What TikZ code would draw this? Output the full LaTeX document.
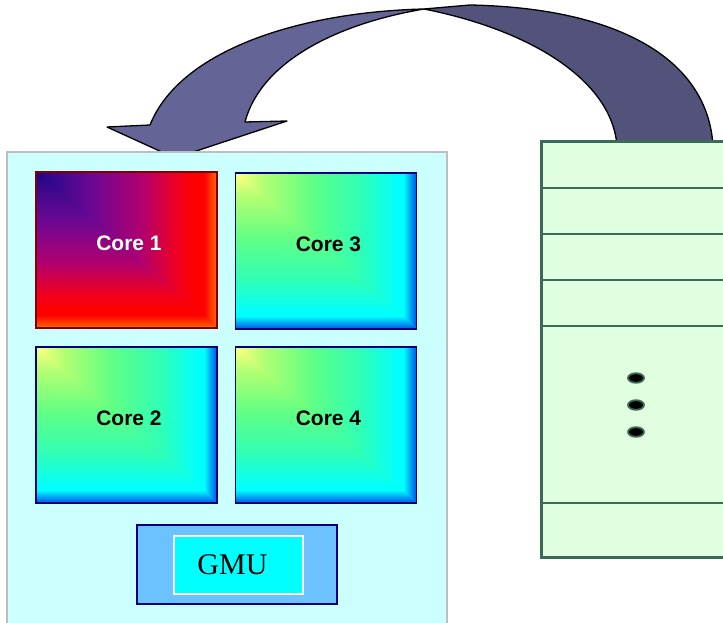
\documentclass[tikz,border=0pt]{standalone}
\usepackage{fontspec}
\setmainfont{Liberation Serif}
\setsansfont{Liberation Sans}
\usepackage{tikz}
\usetikzlibrary{shapes,arrows}

% Farben
\definecolor{chipfill}{HTML}{CCFFFF}
\definecolor{chipline}{HTML}{BEBEBE}
\definecolor{stackfill}{HTML}{E0FFE0}
\definecolor{stackline}{HTML}{3B6B58}
\definecolor{arrowlight}{HTML}{646496}
\definecolor{arrowdark}{HTML}{52527A}
\definecolor{gmuouter}{HTML}{6CC2FF}
\definecolor{gmuinner}{HTML}{00FFFF}
\definecolor{navyline}{HTML}{00007F}
\definecolor{darkredline}{HTML}{800000}
\definecolor{oneA}{HTML}{1E0888}
\definecolor{oneB}{HTML}{6A0894}
\definecolor{oneC}{HTML}{B00070}
\definecolor{oneD}{HTML}{F00020}
\definecolor{oneE}{HTML}{FF0000}
\definecolor{oneF}{HTML}{FF6A00}
\definecolor{threeA}{HTML}{FFFF80}
\definecolor{threeB}{HTML}{B0FF72}
\definecolor{threeC}{HTML}{60FF84}
\definecolor{threeD}{HTML}{30FFB4}
\definecolor{threeE}{HTML}{00FFFF}
\definecolor{threeF}{HTML}{0050E8}

% Verlaeufe der Kerne (Box entspricht 25bp bis 75bp)
\pgfdeclarehorizontalshading{onex}{100bp}{color(0bp)=(oneA); color(25bp)=(oneA); color(40bp)=(oneB); color(54bp)=(oneC); color(64bp)=(oneD); color(69bp)=(oneE); color(100bp)=(oneE)}
\pgfdeclareverticalshading{oney}{100bp}{color(0bp)=(oneE); color(31bp)=(oneE); color(36bp)=(oneD); color(46bp)=(oneC); color(60bp)=(oneB); color(75bp)=(oneA); color(100bp)=(oneA)}
\pgfdeclarehorizontalshading{threex}{100bp}{color(0bp)=(threeA); color(25bp)=(threeA); color(33bp)=(threeB); color(46bp)=(threeC); color(59bp)=(threeD); color(70bp)=(threeE); color(100bp)=(threeE)}
\pgfdeclareverticalshading{threey}{100bp}{color(0bp)=(threeE); color(30bp)=(threeE); color(41bp)=(threeD); color(54bp)=(threeC); color(67bp)=(threeB); color(75bp)=(threeA); color(100bp)=(threeA)}

\begin{document}
\begin{tikzpicture}[x=1pt, y=-1pt,
					core/.style={minimum width=181pt, minimum height=156pt, inner sep=0pt, line width=1.3pt,
						text height=0pt, text depth=0pt, font=\sffamily\bfseries\fontsize{21}{25}\selectfont},
					corefill/.style n args={4}{draw=#4, path picture={
						\shade[shading=#1x] (path picture bounding box.north west) rectangle (path picture bounding box.south east);
						\shade[shading=#1y] (path picture bounding box.north west) -- (path picture bounding box.south west) -- (path picture bounding box.south east) -- cycle;
						\shade[left color=#2, right color=#3] ([xshift=-13pt]path picture bounding box.north east) -- (path picture bounding box.north east) -- (path picture bounding box.south east) -- ([xshift=-13pt,yshift=13pt]path picture bounding box.south east) -- cycle;
						\shade[top color=#2, bottom color=#3] ([yshift=13pt]path picture bounding box.south west) -- ([xshift=-13pt,yshift=13pt]path picture bounding box.south east) -- (path picture bounding box.south east) -- (path picture bounding box.south west) -- cycle;}},
					arrowpart/.style={draw=black, line width=1.3pt, line join=round, fill=#1},
					stackbox/.style={draw=stackline, line width=2.5pt, fill=stackfill},
					stackdot/.style={draw=stackline, line width=1.8pt, fill=black}]
					% Bildbereich
					\useasboundingbox (0,0) rectangle (723,623);
					\clip (0,0) rectangle (723,623);
					\fill[white] (0,0) rectangle (723,623);
					% Pfeil zeichnen
					\draw[arrowpart=arrowlight] (150,125) .. controls (180,50) and (300,12) .. (424,9)
						.. controls (330,25) and (260,65) .. (245,122) -- (287,121) -- (175,158) -- (107,127) -- cycle;
					\draw[arrowpart=arrowdark] (424,9) .. controls (530,30) and (612,80) .. (617,146)
						-- (713,146) .. controls (708,60) and (620,8) .. (470,5) -- cycle;
					% Chip
					\draw[draw=chipline, line width=1.2pt, fill=chipfill] (7,152) rectangle (447,640);
					% Kerne
					\node[core, corefill={one}{oneE}{oneF}{darkredline}, text=white] (c1) at (126.5,250) {\hspace*{5pt}Core 1};
					\foreach \n/\px/\py in {3/326/251, 2/126.5/425, 4/326/425}
						\node[core, corefill={three}{threeE}{threeF}{navyline}] (c\n) at (\px,\py) {\hspace*{5pt}Core \n};
					% GMU
					\node[draw=navyline, line width=1.3pt, fill=gmuouter, minimum width=200pt, minimum height=79pt] (gmubox) at (237,564.5) {};
					\node[draw=white, line width=1.5pt, fill=gmuinner, minimum width=129pt, minimum height=58pt,
						font=\fontsize{30}{34}\selectfont] (gmu) at (238.5,565) {GMU\hspace*{12pt}};
					% Speicher
					\draw[stackbox] (541.5,141.5) rectangle (760,557.5);
					\foreach \y in {188,234,280,326,503} \draw[stackbox] (541.5,\y) -- (760,\y);
					\foreach \y in {378,405,432} \draw[stackdot] (636,\y) ellipse (8 and 4.8);
				\end{tikzpicture}
\end{document}
